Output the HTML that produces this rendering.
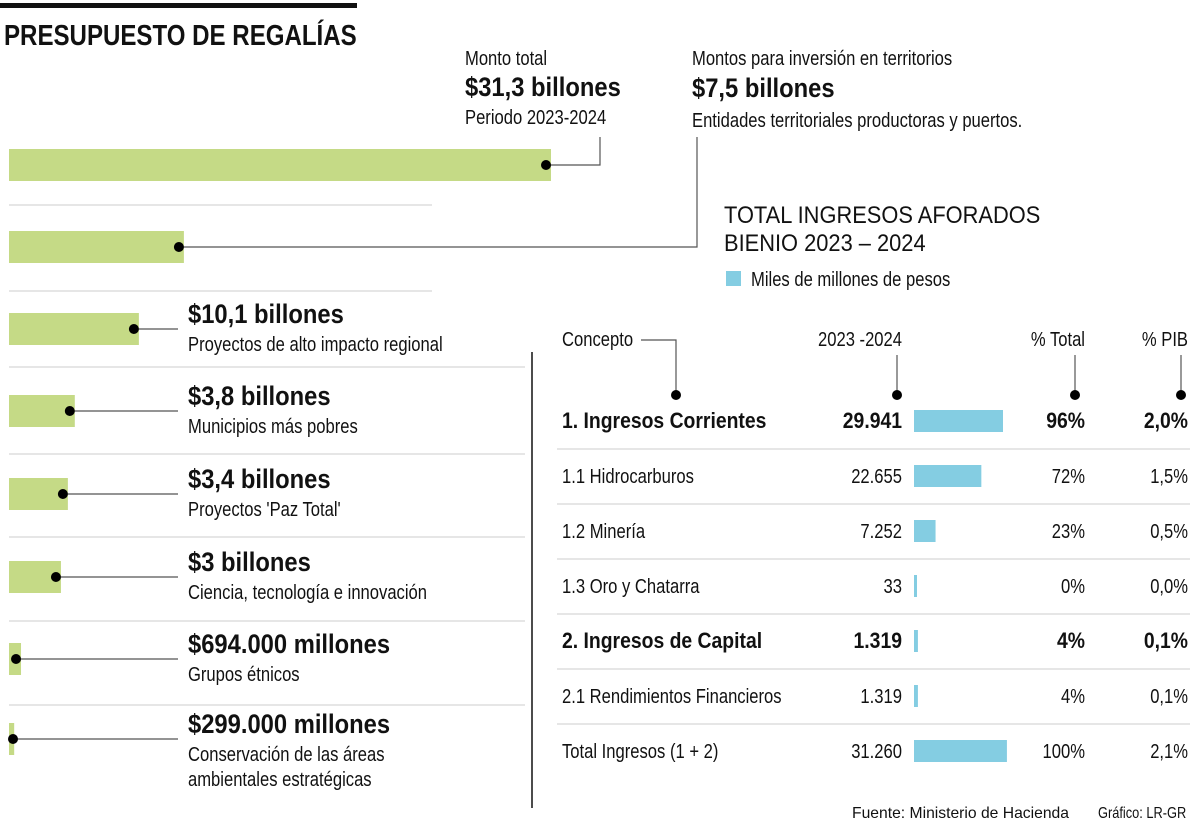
<!DOCTYPE html>
<html><head><meta charset="utf-8">
<style>
html,body{margin:0;padding:0;background:#fff;}
svg{display:block;font-family:"Liberation Sans",sans-serif;}
</style></head>
<body>
<svg id="chart" width="1200" height="826" viewBox="0 0 1200 826">
<rect x="0" y="3" width="357" height="5" fill="#111"/>
<text x="4" y="45" font-size="29" font-weight="bold" fill="#111" data-k="0.83">PRESUPUESTO DE REGALÍAS</text>
<text x="465" y="65" font-size="20" fill="#111">Monto total</text>
<text x="465" y="96" font-size="27" font-weight="bold" fill="#111">$31,3 billones</text>
<text x="465" y="124" font-size="20" fill="#111">Periodo 2023-2024</text>
<text x="692" y="65" font-size="20" fill="#111">Montos para inversión en territorios</text>
<text x="692" y="97" font-size="27" font-weight="bold" fill="#111">$7,5 billones</text>
<text x="692" y="127" font-size="20" fill="#111">Entidades territoriales productoras y puertos.</text>
<text x="724" y="223" font-size="24" fill="#111" data-k="0.91">TOTAL INGRESOS AFORADOS</text>
<text x="724" y="251" font-size="24" fill="#111" data-k="0.91">BIENIO 2023 – 2024</text>
<rect x="726" y="271" width="15" height="15" fill="#84cde2"/>
<text x="751" y="286" font-size="20" fill="#111">Miles de millones de pesos</text>
<line x1="532" y1="352" x2="532" y2="808" stroke="#111" stroke-width="1.5"/>
<text x="852" y="818" font-size="16" fill="#111" data-k="0.98">Fuente: Ministerio de Hacienda</text>
<text x="1098" y="818" font-size="16" fill="#111" data-k="0.8">Gráfico: LR-GR</text>
<g id="left"></g>
<g id="table"></g>
</svg>
<script>
const budgetValues = [31.3, 10.1, 7.5, 3.8, 3.4, 3, 0.694, 0.299];
const budgetTitles = ["", "", "$10,1 billones", "$3,8 billones", "$3,4 billones", "$3 billones", "$694.000 millones", "$299.000 millones"];
const budgetDescs = [[""], [""], ["Proyectos de alto impacto regional"], ["Municipios más pobres"], ["Proyectos 'Paz Total'"], ["Ciencia, tecnología e innovación"], ["Grupos étnicos"], ["Conservación de las áreas", "ambientales estratégicas"]];

const concepts = ["1. Ingresos Corrientes", "1.1 Hidrocarburos", "1.2 Minería", "1.3 Oro y Chatarra", "2. Ingresos de Capital", "2.1 Rendimientos Financieros", "Total Ingresos (1 + 2)"];
const amounts = [29941, 22655, 7252, 33, 1319, 1319, 31260];
const amountLabels = ["29.941", "22.655", "7.252", "33", "1.319", "1.319", "31.260"];
const pctTotal = ["96%", "72%", "23%", "0%", "4%", "4%", "100%"];
const pctPib = ["2,0%", "1,5%", "0,5%", "0,0%", "0,1%", "0,1%", "2,1%"];
const boldRows = [true, false, false, false, true, false, false];

const NS = "http://www.w3.org/2000/svg";
function mk(parent, tag, attrs, text) {
  const e = document.createElementNS(NS, tag);
  for (const k in attrs) e.setAttribute(k, attrs[k]);
  if (text !== undefined) e.textContent = text;
  parent.appendChild(e);
  return e;
}
const left = document.getElementById("left");
const xL = v => 9 + v * (542 / 31.3);
const rowY = [149, 231, 313, 395, 478, 561, 643, 723];
const sepY = [205, 291, 367, 454, 537, 621, 705];
sepY.forEach((y, i) => {
  const l = mk(left, "line", {x1: 9, x2: i < 2 ? 432 : 525, y1: y, y2: y, stroke: "#ccc", "stroke-width": 1});
  
  
});
budgetValues.forEach((v, i) => {
  const y = rowY[i];
  const b = mk(left, "rect", {x: 9, y: y, width: xL(v) - 9, height: 32, fill: "#c5da86"});
  
  
  const dx = Math.max(xL(v) - 5, 13), dy = y + 16;
  let path;
  if (i === 0) path = `M${dx} ${dy} H600 V137`;
  else if (i === 1) path = `M${dx} ${dy} H697 V137`;
  else path = `M${dx} ${dy} H178`;
  const ln = mk(left, "path", {d: path, fill: "none", stroke: "#555", "stroke-width": 1.2});
  
  
  const dot = mk(left, "circle", {cx: dx, cy: dy, r: 5, fill: "#000"});
  
  
  if (budgetTitles[i]) {
    const t = mk(left, "text", {x: 188, y: y + 10, "font-size": 27, "font-weight": "bold", fill: "#111"}, budgetTitles[i]);
    
    
    budgetDescs[i].forEach((d, j) => {
      const s = mk(left, "text", {x: 188, y: y + 38 + j * 25, "font-size": 20, fill: "#111"}, d);
      
      
    });
  }
});

const table = document.getElementById("table");
const xT = v => v * (89 / 29941);
const hdr = [["Concepto", 562, "start"], ["2023 -2024", 902, "end"], ["% Total", 1085, "end"], ["% PIB", 1188, "end"]];
hdr.forEach(h => {
  const t = mk(table, "text", {x: h[1], y: 346, "font-size": 20, fill: "#111", "text-anchor": h[2]}, h[0]);
  
  
});
const dotX = [676, 897, 1075, 1181];
dotX.forEach((x, i) => {
  const d = i === 0 ? `M641 340 H${x} V395` : `M${x} 355 V395`;
  const p = mk(table, "path", {d: d, fill: "none", stroke: "#555", "stroke-width": 1.2});
  
  
  const c = mk(table, "circle", {cx: x, cy: 395, r: 5, fill: "#000"});
  
  
});
concepts.forEach((c, i) => {
  const cy = 421 + i * 55;
  const fw = boldRows[i] ? "bold" : "normal";
  const fs = boldRows[i] ? 22 : 20;
  if (i > 0) {
    const s = mk(table, "line", {x1: 557, x2: 1190, y1: cy - 27, y2: cy - 27, stroke: "#ccc", "stroke-width": 1});
    
    
  }
  const t1 = mk(table, "text", {x: 562, y: cy + 7, "font-size": fs, "font-weight": fw, fill: "#111"}, c);
  
  
  const t2 = mk(table, "text", {x: 902, y: cy + 7, "font-size": fs, "font-weight": fw, fill: "#111", "text-anchor": "end"}, amountLabels[i]);
  
  
  const b = mk(table, "rect", {x: 914, y: cy - 11, width: Math.max(xT(amounts[i]), 3), height: 22, fill: "#84cde2"});
  
  
  const t3 = mk(table, "text", {x: 1085, y: cy + 7, "font-size": fs, "font-weight": fw, fill: "#111", "text-anchor": "end"}, pctTotal[i]);
  
  
  const t4 = mk(table, "text", {x: 1188, y: cy + 7, "font-size": fs, "font-weight": fw, fill: "#111", "text-anchor": "end"}, pctPib[i]);
  
  
});
// condense text to mimic the narrow typeface
document.querySelectorAll("#chart text").forEach(t => {
  const len = t.getComputedTextLength();
  let k = t.getAttribute("data-k");
  if (!k) k = t.getAttribute("font-weight") === "bold" ? 0.88 : 0.83;
  t.setAttribute("textLength", (len * parseFloat(k)).toFixed(1));
  t.setAttribute("lengthAdjust", "spacingAndGlyphs");
});
</script>
</body></html>
